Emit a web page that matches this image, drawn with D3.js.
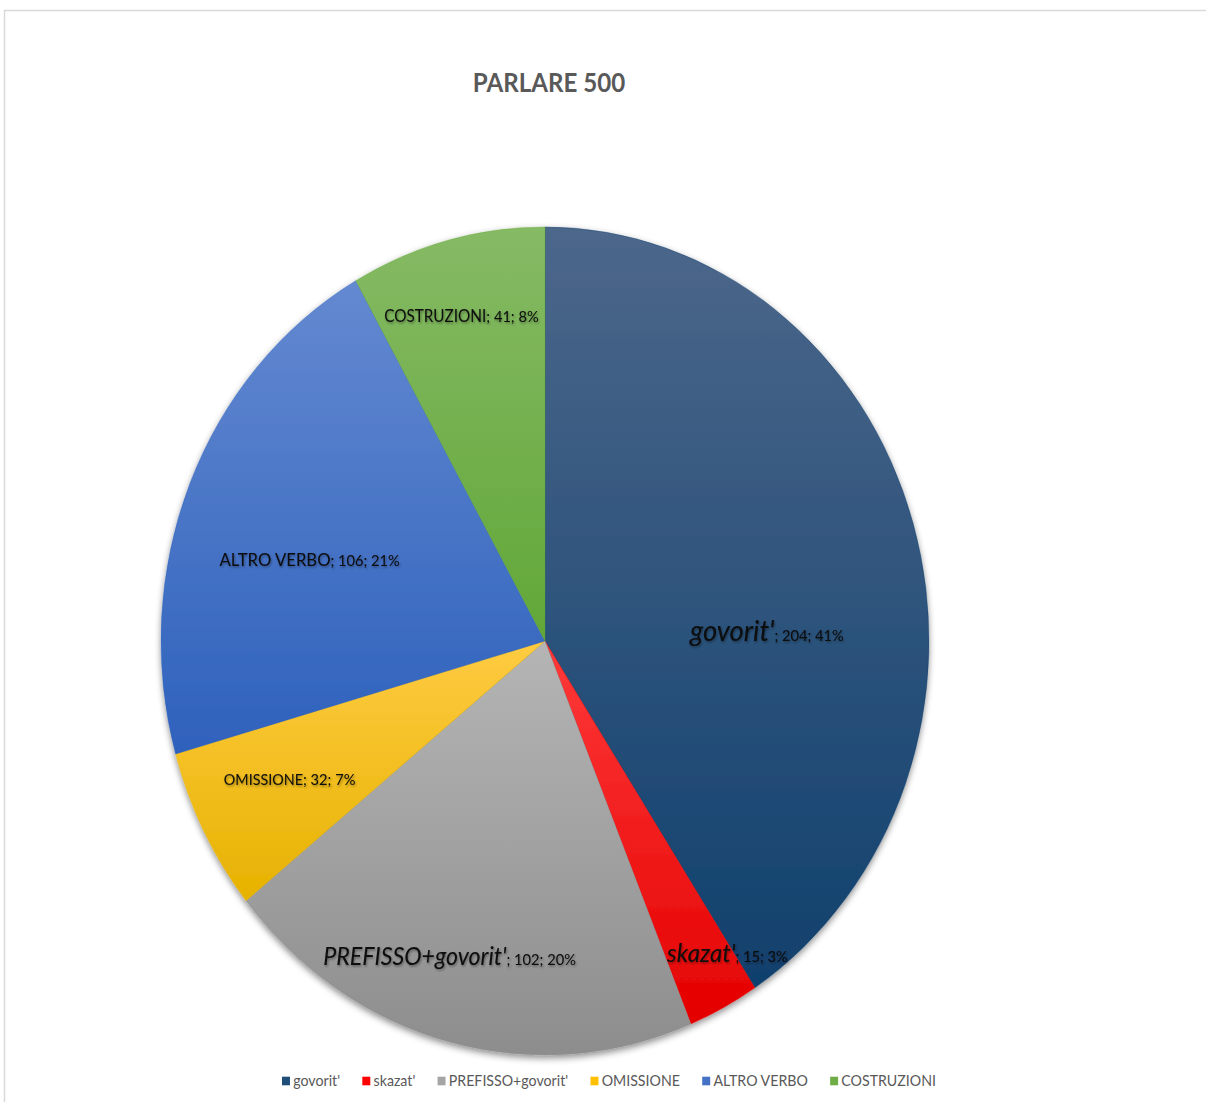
<!DOCTYPE html>
<html>
<head>
<meta charset="utf-8">
<script src="https://cdn.jsdelivr.net/npm/d3@7/dist/d3.min.js"></script>
<style>
  html, body { margin: 0; padding: 0; background: #ffffff; }
  svg { display: block; }
</style>
</head>
<body>
<svg id="chart" width="1206" height="1102"></svg>
<script>
// ---- data ----
const chartTitle = "PARLARE 500";
const categories = ["govorit'", "skazat'", "PREFISSO+govorit'", "OMISSIONE", "ALTRO VERBO", "COSTRUZIONI"];
const values = [204, 15, 102, 32, 106, 41];
const percentLabels = ["41%", "3%", "20%", "7%", "21%", "8%"];

// ---- styling ----
const topColors    = ["#4c678b", "#ff3a3a", "#b5b5b5", "#ffcb42", "#6489d1", "#86ba65"];
const bottomColors = ["#10406d", "#e40000", "#8d8d8d", "#e6b200", "#2e61bc", "#61a737"];
const keyColors    = ["#1f4e79", "#ff0000", "#a5a5a5", "#ffc000", "#4472c4", "#70ad47"];
const nameSize   = [29.5, 26, 25, 15.5, 18, 16.5];
const nameItalic = [true, true, true, false, false, false];
const valueSize  = 15.8;
// label placement: fraction of the radius, and degrees away from the slice's mid-angle
const labelRadius = [0.578, 0.909, 0.822, 0.751, 0.639, 0.801];
const labelShift  = [16.6, -3.8, 3.2, -0.3, -5.9, -1.0];

const W = 1206, H = 1102;
const cx = 545, cy = 641, R = 414;
const kx = 0.9275;               // the plot area is squeezed horizontally
const FONT = "Lato, 'Open Sans', sans-serif";

const svg = d3.select("#chart");
const defs = svg.append("defs");

// soft shadow under the pie
const pieShadow = defs.append("filter").attr("id", "pieShadow")
  .attr("x", "-10%").attr("y", "-10%").attr("width", "120%").attr("height", "125%");
pieShadow.append("feDropShadow").attr("dx", 0).attr("dy", 3).attr("stdDeviation", 3.5)
  .attr("flood-color", "#000").attr("flood-opacity", 0.45);

// soft shadow behind the data labels
const textShadow = defs.append("filter").attr("id", "textShadow")
  .attr("x", "-10%").attr("y", "-40%").attr("width", "120%").attr("height", "180%");
textShadow.append("feDropShadow").attr("dx", 1).attr("dy", 1.5).attr("stdDeviation", 1.1)
  .attr("flood-color", "#000").attr("flood-opacity", 0.4);

// one top-to-bottom gradient per slice
categories.forEach((c, i) => {
  const g = defs.append("linearGradient").attr("id", "grad" + i)
    .attr("x1", 0).attr("y1", 0).attr("x2", 0).attr("y2", 1);
  g.append("stop").attr("offset", "0%").attr("stop-color", topColors[i]);
  g.append("stop").attr("offset", "100%").attr("stop-color", bottomColors[i]);
});

// chart frame
svg.append("rect")
  .attr("x", 4.5).attr("y", 10.5).attr("width", W + 20).attr("height", H + 20)
  .attr("fill", "#ffffff").attr("stroke", "#d9d9d9").attr("stroke-width", 1.5);

// title
svg.append("g").attr("transform", `translate(549,92) scale(${kx},1)`)
  .append("text")
  .attr("text-anchor", "middle")
  .attr("font-family", FONT).attr("font-weight", "bold").attr("font-size", 26)
  .attr("fill", "#595959")
  .text(chartTitle);

// pie
const data = categories.map((c, i) => ({ name: c, value: values[i], pct: percentLabels[i], i }));
const pie = d3.pie().sort(null).value(d => d.value).startAngle(0).endAngle(2 * Math.PI);
const arcs = pie(data);
const arc = d3.arc().innerRadius(0).outerRadius(R);

const plot = svg.append("g").attr("transform", `translate(${cx},${cy}) scale(${kx},1)`);

plot.append("g").attr("filter", "url(#pieShadow)")
  .selectAll("path").data(arcs).join("path")
  .attr("d", arc)
  .attr("fill", d => `url(#grad${d.data.i})`)
  .attr("stroke", d => bottomColors[d.data.i])
  .attr("stroke-width", 0.4);

// data labels: "name; value; percent"
const labels = plot.append("g").attr("filter", "url(#textShadow)")
  .selectAll("text").data(arcs).join("text")
  .attr("text-anchor", "middle")
  .attr("font-family", FONT)
  .attr("fill", "#0a0a0a")
  .attr("x", d => {
    const a = (d.startAngle + d.endAngle) / 2 + labelShift[d.data.i] * Math.PI / 180;
    return labelRadius[d.data.i] * R * Math.sin(a);
  })
  .attr("y", d => {
    const a = (d.startAngle + d.endAngle) / 2 + labelShift[d.data.i] * Math.PI / 180;
    return -labelRadius[d.data.i] * R * Math.cos(a);
  });

labels.append("tspan")
  .attr("font-size", d => nameSize[d.data.i])
  .attr("font-style", d => nameItalic[d.data.i] ? "italic" : "normal")
  .text(d => d.data.name);
labels.append("tspan")
  .attr("font-size", valueSize)
  .text(d => `; ${d.data.value}; ${d.data.pct}`);

// legend
const legend = svg.append("g");
const legendInner = legend.append("g");
let lx = 0;
const sq = 8.6, gapText = 3.5, gapItem = 24;
categories.forEach((c, i) => {
  const item = legendInner.append("g").attr("transform", `translate(${lx},0)`);
  item.append("rect").attr("x", 0).attr("y", -sq / 2).attr("width", sq).attr("height", sq)
    .attr("fill", keyColors[i]);
  const t = item.append("text")
    .attr("x", sq + gapText).attr("y", 5.3)
    .attr("font-family", FONT).attr("font-size", 15.3).attr("fill", "#595959")
    .text(c);
  lx += sq + gapText + t.node().getComputedTextLength() + gapItem;
});
const legendWidth = lx - gapItem;
legend.attr("transform", `translate(${609 - legendWidth * kx / 2},1081) scale(${kx},1)`);
</script>
</body>
</html>
